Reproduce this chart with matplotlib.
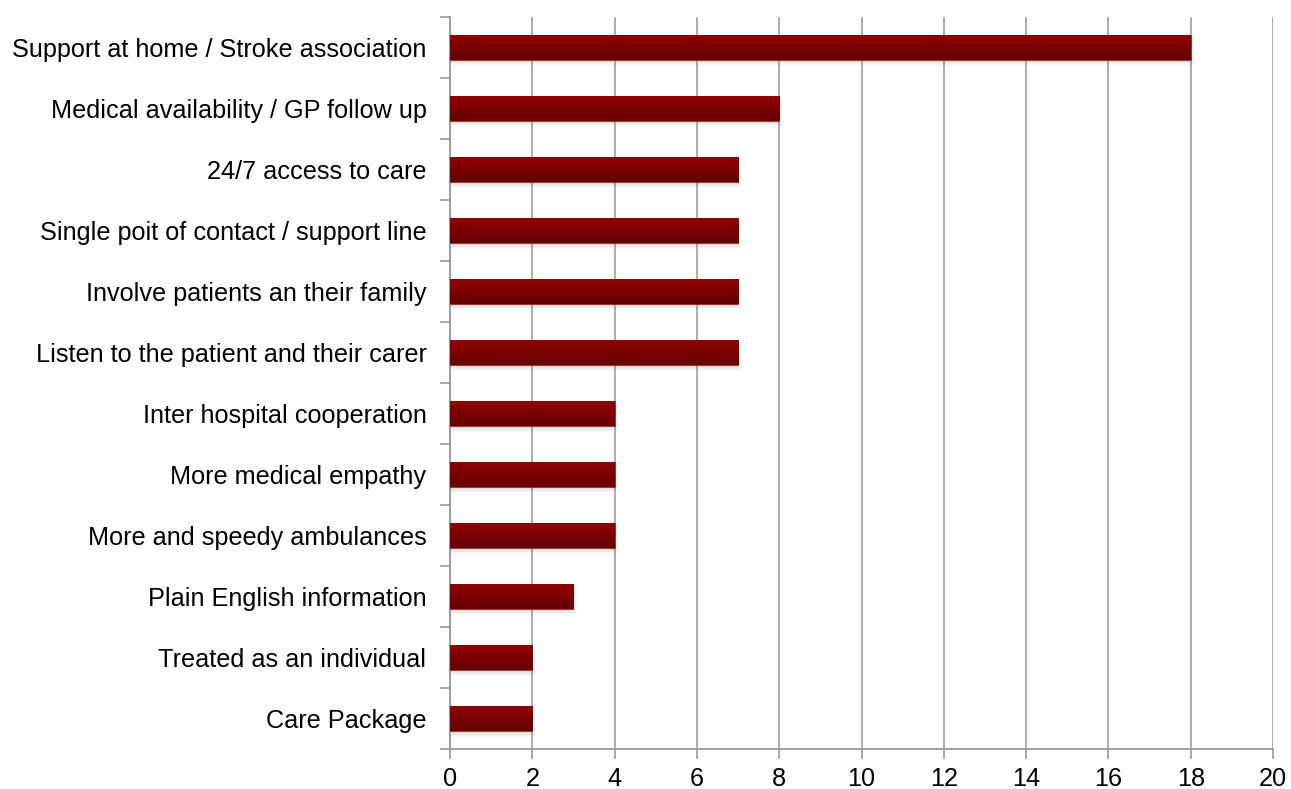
import matplotlib
matplotlib.use('Agg')
import matplotlib.pyplot as plt
import numpy as np
from matplotlib.colors import LinearSegmentedColormap

plt.rcParams['font.family'] = ['Liberation Sans', 'DejaVu Sans']

categories = ['Support at home / Stroke association',
              'Medical availability / GP follow up',
              '24/7 access to care',
              'Single poit of contact / support line',
              'Involve patients an their family',
              'Listen to the patient and their carer',
              'Inter hospital cooperation',
              'More medical empathy',
              'More and speedy ambulances',
              'Plain English information',
              'Treated as an individual',
              'Care Package']
values = [18, 8, 7, 7, 7, 7, 4, 4, 4, 3, 2, 2]
xticks = list(range(0, 21, 2))

fig = plt.figure(figsize=(12.91, 7.89), dpi=100)
ax = fig.add_axes([0.3486, 0.0507, 0.6375, 0.928])

n = len(categories)
ypos = np.arange(n)
h = 0.4
grad = LinearSegmentedColormap.from_list('g', ['#920000', '#640000'])
gimg = np.linspace(0, 1, 100).reshape(-1, 1)

for y, v in zip(ypos, values):
    # soft grey shadow under the bar
    for k, a in enumerate([0.12, 0.08, 0.05, 0.03]):
        ax.barh(y + 0.04 + k * 0.025, v + 0.02 + k * 0.02, height=h, left=0,
                color='#808080', alpha=a, linewidth=0, zorder=2)
    bar = ax.barh(y, v, height=h, color='#7a0000', edgecolor='#a82828',
                  linewidth=0.6, zorder=3)[0]
    im = ax.imshow(gimg, cmap=grad, aspect='auto', zorder=4,
                   extent=[0, v, y + h / 2, y - h / 2])
    im.set_clip_path(bar)

ax.set_xlim(0, 20)
ax.set_ylim(n - 0.5, -0.5)
ax.set_xticks(xticks)
ax.set_yticks(ypos)
ax.set_yticklabels(categories)
ax.set_yticks(np.arange(-0.5, n, 1), minor=True)
ax.tick_params(axis='y', which='major', length=0, pad=17, labelsize=18.2)
ax.tick_params(axis='y', which='minor', length=7, color='#999999', width=1.2)
ax.tick_params(axis='x', length=7, color='#999999', width=1.2, labelsize=18.2, pad=6)
ax.xaxis.grid(True, color='#a6a6a6', linewidth=1.3, zorder=0)
ax.set_axisbelow(True)
for s in ['top', 'right']:
    ax.spines[s].set_visible(False)
for s in ['left', 'bottom']:
    ax.spines[s].set_color('#999999')
    ax.spines[s].set_linewidth(1.3)

fig.savefig('out.png', dpi=100)
